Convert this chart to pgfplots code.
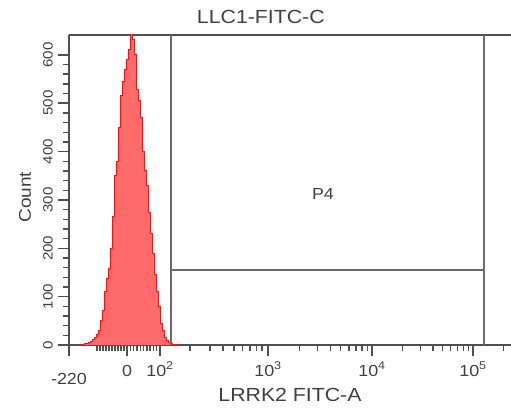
\documentclass[border=0pt]{standalone}
\usepackage{fontspec}
\setmainfont{Liberation Sans}[FakeStretch=1.12]
\usepackage{pgfplots}
\pgfplotsset{compat=1.18}
\definecolor{histfill}{HTML}{FF6A6A}
\definecolor{histline}{HTML}{FF1010}
\definecolor{gatec}{HTML}{6A6A6A}
\definecolor{axc}{HTML}{505050}
\definecolor{txtc}{HTML}{404040}

% histogram, x in display channels (0 = -220, 58 = 0, 91 = 10^2, 199 = 10^3 ...)
\pgfplotstableread{
u   count
10  0
12  1
14  2
16  3
18  4
20  6
22  8
24  12
26  16
28  22
30  30
32  50
34  72
36  110
38  138
40  158
42  200
44  265
46  350
48  380
50  450
52  515
54  545
56  570
58  590
60  612
62  645
64  632
66  600
68  528
70  505
72  470
74  400
76  360
78  330
80  275
82  230
84  190
86  145
88  110
90  80
92  45
94  30
96  15
98  9
100 5
102 3
104 2
106 2
108 1
110 0
}\histdata

\begin{document}
\begin{tikzpicture}[x=1pt,y=1pt]
\useasboundingbox (0,0) rectangle (511,411);
\begin{axis}[
  at={(69pt,66pt)}, anchor=south west,
  scale only axis, width=442pt, height=310pt,
  xmin=0, xmax=442, ymin=0, ymax=641,
  separate axis lines,
  axis x line=box, axis y line=left,
  axis line style={-, axc, line width=1.4pt},
  xtick pos=bottom, ytick pos=left,
  tick align=outside,
  major tick length=11pt, minor tick length=6pt,
  tick style={axc, line width=1.4pt},
  xtick={0,58,91,199,303,404},
  xticklabels={\raisebox{-8pt}{-220}, 0, 10\textsuperscript{2}, 10\textsuperscript{3}, 10\textsuperscript{4}, 10\textsuperscript{5}},
  minor xtick={28,31,34,37,40,43,46,49,52,55,61.3,64.6,67.9,71.2,74.5,77.8,81.1,84.4,87.7,
    121,141,154,165,173.5,181,187.5,193,
    230.3,248.6,261.6,271.7,279.9,286.9,292.9,298.2,
    333.4,351.2,363.8,373.6,381.6,388.4,394.2,399.4,434.4},
  xticklabel style={font=\fontsize{16}{16}\selectfont, txtc, anchor=north, text height=12pt, text depth=0pt, inner sep=0pt},
  xticklabel shift=8pt,
  ytick={0,100,200,300,400,500,600},
  yticklabels={0,100,200,300,400,500,600},
  minor y tick num=4,
  yticklabel style={font=\fontsize{13.5}{13.5}\selectfont, txtc, rotate=90, anchor=south, inner sep=0pt},
  yticklabel shift=5pt,
  title={LLC1-FITC-C},
  title style={at={(axis description cs:0.434,1)}, anchor=south, inner sep=0pt, yshift=5pt, font=\fontsize{19}{19}\selectfont, txtc},
  xlabel={LRRK2 FITC-A},
  xlabel style={at={(axis description cs:0.5,0)}, anchor=north, inner sep=0pt, yshift=-43pt, font=\fontsize{19}{19}\selectfont, txtc},
  ylabel={Count},
  ylabel style={at={(axis description cs:-0.0995,0.477)}, anchor=center, inner sep=0pt, font=\fontsize{17}{17}\selectfont, txtc},
]
\addplot[const plot mark mid, fill=histfill, draw=histline, line width=0.9pt] table[x=u, y=count] {\histdata} \closedcycle;
% P4 gate
\draw[gatec, line width=1.4pt] (axis cs:102,0) -- (axis cs:102,641);
\draw[gatec, line width=1.4pt] (axis cs:415,0) -- (axis cs:415,641);
\draw[gatec, line width=1.4pt] (axis cs:102,155) -- (axis cs:415,155);
\node[txtc, font=\fontsize{16}{16}\selectfont] at (axis cs:254,313) {P4};
\end{axis}
\end{tikzpicture}
\end{document}
